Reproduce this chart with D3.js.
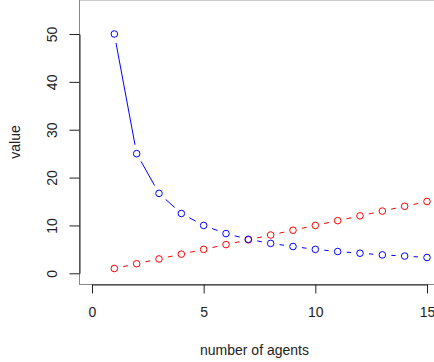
<!DOCTYPE html>
<html>
<head>
<meta charset="utf-8">
<script src="https://cdn.jsdelivr.net/npm/d3@7.9.0/dist/d3.min.js"></script>
<style>
  body { margin: 0; background: #fff; }
  svg { display: block; font-family: "Liberation Sans", Arial, sans-serif; }
</style>
</head>
<body>
<svg id="chart" width="434" height="362"></svg>
<script>
// data
const agents = [1, 2, 3, 4, 5, 6, 7, 8, 9, 10, 11, 12, 13, 14, 15];
const blueValues = [50, 25, 16.7, 12.5, 10, 8.3, 7.1, 6.25, 5.6, 5, 4.55, 4.2, 3.85, 3.6, 3.3];
const redValues = [1, 2, 3, 4, 5, 6, 7, 8, 9, 10, 11, 12, 13, 14, 15];
const xTicks = [0, 5, 10, 15];
const yTicks = [0, 10, 20, 30, 40, 50];

const svg = d3.select('#chart');

const x = d3.scaleLinear().domain([0, 15]).range([92, 427]);
const y = d3.scaleLinear().domain([0, 50]).range([273.3, 34]);

const left = 79, bottom = 284;

// plot frame (gray, cut off at top and right)
svg.append('line').attr('x1', left).attr('x2', 434).attr('y1', 0.5).attr('y2', 0.5)
  .attr('stroke', '#ccc');
svg.append('line').attr('x1', left + 0.5).attr('x2', left + 0.5).attr('y1', 0).attr('y2', bottom + 0.5)
  .attr('stroke', '#888');
svg.append('line').attr('x1', left).attr('x2', 434).attr('y1', bottom + 0.5).attr('y2', bottom + 0.5)
  .attr('stroke', '#888');

// axes
const yAxis = svg.append('g')
  .attr('transform', `translate(${left + 0.5},0)`)
  .call(d3.axisLeft(y).tickValues(yTicks).tickSize(10).tickSizeOuter(0));
yAxis.selectAll('text')
  .attr('transform', 'rotate(-90)')
  .attr('x', 0)
  .attr('y', -27.5)
  .attr('dy', '0.35em')
  .attr('text-anchor', 'middle');

const xAxis = svg.append('g')
  .attr('transform', `translate(0,${bottom + 0.5})`)
  .call(d3.axisBottom(x).tickValues(xTicks).tickSize(9).tickSizeOuter(0));
xAxis.selectAll('text')
  .attr('y', 27.5)
  .attr('dy', '0.35em');

svg.selectAll('.tick line, .domain').attr('stroke', '#222');
svg.selectAll('.tick text').attr('font-size', 14).attr('fill', '#222')
  .attr('font-family', '"Liberation Sans", Arial, sans-serif');

// axis titles
svg.append('text')
  .attr('x', 254.5).attr('y', 350).attr('dy', '0.35em')
  .attr('text-anchor', 'middle').attr('font-size', 14).attr('fill', '#222')
  .text('number of agents');
svg.append('text')
  .attr('transform', 'translate(15,142) rotate(-90)')
  .attr('dy', '0.35em')
  .attr('text-anchor', 'middle').attr('font-size', 14).attr('fill', '#222')
  .text('value');

// type = "b": points joined by lines with a gap around each point
function drawSeries(values, color) {
  const pts = agents.map((a, i) => [x(a), y(values[i])]);
  const gap = 9;
  const segs = d3.pairs(pts).map(([p, q]) => {
    const dx = q[0] - p[0], dy = q[1] - p[1];
    const len = Math.hypot(dx, dy);
    if (len <= 2 * gap) return null;
    const ux = dx / len, uy = dy / len;
    return [p[0] + ux * gap, p[1] + uy * gap, q[0] - ux * gap, q[1] - uy * gap];
  }).filter(d => d);

  const g = svg.append('g');
  g.selectAll('line').data(segs).join('line')
    .attr('x1', d => d[0]).attr('y1', d => d[1])
    .attr('x2', d => d[2]).attr('y2', d => d[3])
    .attr('stroke', color).attr('stroke-width', 1);
  g.selectAll('circle').data(pts).join('circle')
    .attr('cx', d => d[0]).attr('cy', d => d[1]).attr('r', 3.3)
    .attr('fill', 'none').attr('stroke', color).attr('stroke-width', 1);
}

drawSeries(redValues, '#ff0000');
drawSeries(blueValues, '#0000ff');
</script>
</body>
</html>
